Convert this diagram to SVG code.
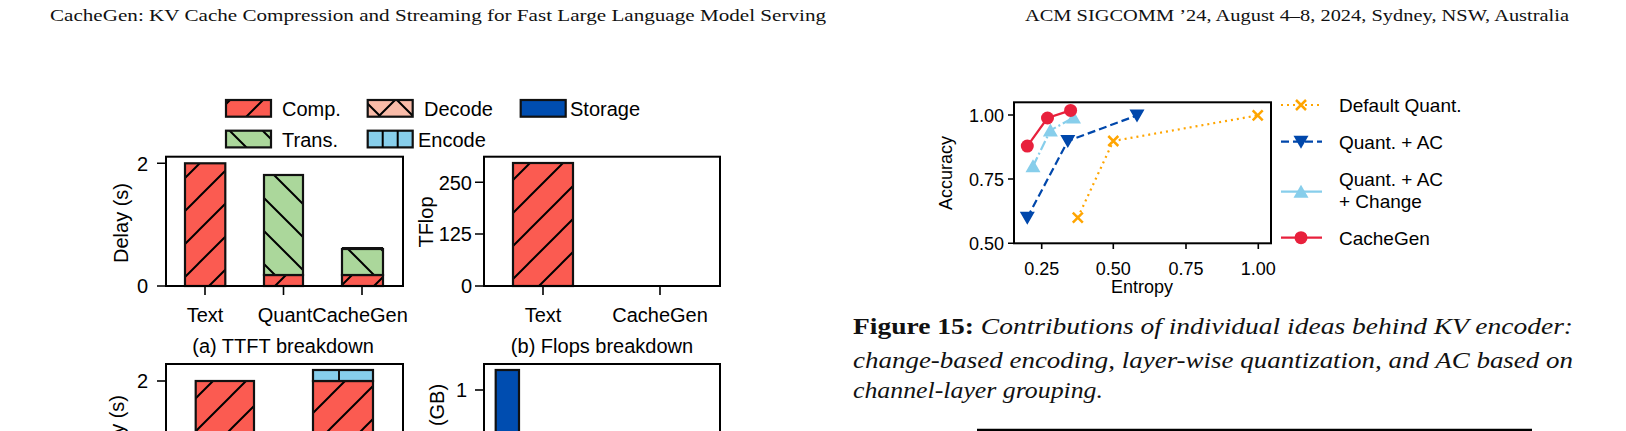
<svg xmlns="http://www.w3.org/2000/svg" width="1626" height="431" viewBox="0 0 1626 431">
<style>
.s{font-family:"Liberation Sans",Arial,sans-serif;fill:#000}
.t20{font-size:20px}
.t18{font-size:18px}
.serif{font-family:"Liberation Serif","Times New Roman",serif;fill:#111}
.ax{fill:none;stroke:#000;stroke-width:2}
.bar{stroke:#111;stroke-width:2.2}
.tk{stroke:#000;stroke-width:1.6}
</style>
<defs>
<pattern id="hf" patternUnits="userSpaceOnUse" width="33" height="33"><rect width="33" height="33" fill="#FB5B51"/><path d="M0,33 L33,0 M-6,6 L6,-6 M27,39 L39,27" stroke="#000" stroke-width="2"/></pattern>
<pattern id="hb" patternUnits="userSpaceOnUse" width="33" height="33"><rect width="33" height="33" fill="#ABD79B"/><path d="M0,0 L33,33 M-6,27 L6,39 M27,-6 L39,6" stroke="#000" stroke-width="2"/></pattern>
<pattern id="hx" patternUnits="userSpaceOnUse" width="33" height="33"><rect width="33" height="33" fill="#F9BBA8"/><path d="M0,33 L33,0 M0,0 L33,33" stroke="#000" stroke-width="2"/></pattern>
</defs>

<g id="header">
<text class="serif" x="50" y="21" font-size="17.5" textLength="776" lengthAdjust="spacingAndGlyphs">CacheGen: KV Cache Compression and Streaming for Fast Large Language Model Serving</text>
<text class="serif" x="1025" y="21" font-size="17.5" textLength="544" lengthAdjust="spacingAndGlyphs">ACM SIGCOMM ’24, August 4–8, 2024, Sydney, NSW, Australia</text>
</g>

<g id="legend-left" class="s t20">
<rect x="226" y="100" width="45" height="16.7" fill="url(#hf)" class="bar"/>
<text x="282" y="116">Comp.</text>
<rect x="367.7" y="100" width="45" height="16.7" fill="url(#hx)" class="bar"/>
<text x="424" y="116">Decode</text>
<rect x="520.7" y="100" width="45" height="16.7" fill="#004DB0" class="bar"/>
<text x="570" y="116">Storage</text>
<rect x="226" y="130.7" width="45" height="16.7" fill="url(#hb)" class="bar"/>
<text x="282" y="146.5">Trans.</text>
<rect x="367.7" y="130.7" width="45" height="16.7" fill="#87CEEB" class="bar"/>
<path d="M382.7,130.7 V147.4 M397.7,130.7 V147.4" stroke="#000" stroke-width="2"/>
<text x="418" y="146.5">Encode</text>
</g>

<g id="chart-a">
<rect x="185" y="163.3" width="40.3" height="122.7" fill="url(#hf)" class="bar"/>
<rect x="264" y="275" width="39" height="11" fill="url(#hf)" class="bar"/>
<rect x="264" y="175" width="39" height="100" fill="url(#hb)" class="bar"/>
<rect x="342" y="275" width="41" height="11" fill="url(#hf)" class="bar"/>
<rect x="342" y="249" width="41" height="26" fill="url(#hb)" class="bar"/>
<rect x="342" y="247" width="41" height="3" fill="#111"/>
<rect x="166" y="156.7" width="237" height="129.3" class="ax"/>
<path class="tk" d="M157,163.3 H166 M157,286 H166 M205,286 V295 M283.5,286 V295 M362,286 V295"/>
<g class="s t20">
<text x="148" y="170.5" text-anchor="end">2</text>
<text x="148" y="293" text-anchor="end">0</text>
<text x="205" y="322" text-anchor="middle">Text</text>
<text x="285" y="322" text-anchor="middle">Quant</text>
<text x="360" y="322" text-anchor="middle">CacheGen</text>
<text transform="translate(128,223) rotate(-90)" text-anchor="middle">Delay (s)</text>
<text x="283" y="353" text-anchor="middle">(a) TTFT breakdown</text>
</g>
</g>

<g id="chart-b">
<rect x="513" y="163" width="60" height="123" fill="url(#hf)" class="bar"/>
<rect x="630" y="285" width="60" height="1.5" fill="#111"/>
<rect x="484" y="156.7" width="236" height="129.3" class="ax"/>
<path class="tk" d="M475,182.3 H484 M475,234 H484 M475,286 H484 M543,286 V295 M660,286 V295"/>
<g class="s t20">
<text x="472" y="189.5" text-anchor="end">250</text>
<text x="472" y="241" text-anchor="end">125</text>
<text x="472" y="293" text-anchor="end">0</text>
<text x="543" y="322" text-anchor="middle">Text</text>
<text x="660" y="322" text-anchor="middle">CacheGen</text>
<text transform="translate(433,222) rotate(-90)" text-anchor="middle">TFlop</text>
<text x="602" y="353" text-anchor="middle">(b) Flops breakdown</text>
</g>
</g>

<g id="chart-c">
<rect x="195.7" y="381" width="58.3" height="60" fill="url(#hf)" class="bar"/>
<rect x="313" y="381" width="60" height="60" fill="url(#hf)" class="bar"/>
<rect x="313" y="370" width="60" height="11" fill="#87CEEB" class="bar"/>
<path d="M339,370 V381" stroke="#111" stroke-width="2"/>
<rect x="166" y="364" width="237" height="80" class="ax"/>
<path class="tk" d="M157,381 H166"/>
<g class="s t20">
<text x="148" y="388" text-anchor="end">2</text>
<text transform="translate(124,435) rotate(-90)" text-anchor="middle">Delay (s)</text>
</g>
</g>

<g id="chart-d">
<rect x="495.7" y="370" width="23.3" height="70" fill="#004DB0" class="bar"/>
<rect x="484" y="364" width="236" height="80" class="ax"/>
<path class="tk" d="M475,390 H484"/>
<g class="s t20">
<text x="467" y="397" text-anchor="end">1</text>
<text transform="translate(444,405) rotate(-90)" text-anchor="middle">(GB)</text>
</g>
</g>

<g id="chart-fig15">
<rect x="1014" y="102.3" width="257" height="141" class="ax"/>
<path class="tk" d="M1008,115 H1014 M1008,179 H1014 M1008,243.3 H1014 M1041.7,243.3 V249 M1113.3,243.3 V249 M1186,243.3 V249 M1258.3,243.3 V249"/>
<g class="s t18">
<text x="1004" y="121.5" text-anchor="end">1.00</text>
<text x="1004" y="185.5" text-anchor="end">0.75</text>
<text x="1004" y="250" text-anchor="end">0.50</text>
<text x="1041.7" y="275" text-anchor="middle">0.25</text>
<text x="1113.3" y="275" text-anchor="middle">0.50</text>
<text x="1186" y="275" text-anchor="middle">0.75</text>
<text x="1258.3" y="275" text-anchor="middle">1.00</text>
<text x="1142" y="293" text-anchor="middle">Entropy</text>
<text transform="translate(952,173) rotate(-90)" text-anchor="middle">Accuracy</text>
</g>
<g id="series-default">
<polyline points="1077.8,217.7 1113.3,141 1257.7,115.4" fill="none" stroke="#FFA500" stroke-width="2.2" stroke-dasharray="2,4"/>
<path d="M1072.8,212.7 l10,10 M1082.8,212.7 l-10,10 M1108.3,136 l10,10 M1118.3,136 l-10,10 M1252.7,110.4 l10,10 M1262.7,110.4 l-10,10" stroke="#FFA500" stroke-width="2.5"/>
</g>
<g id="series-ac">
<polyline points="1027.3,217.7 1067.8,141 1137,115.4" fill="none" stroke="#0047AB" stroke-width="2.2" stroke-dasharray="8,4"/>
<path d="M1019.8,211.7 h15 l-7.5,13z M1060.3,135 h15 l-7.5,13z M1129.5,109.4 h15 l-7.5,13z" fill="#0047AB"/>
</g>
<g id="series-change">
<polyline points="1033,166.2 1050.4,130.4 1073.5,117.6" fill="none" stroke="#87CEEB" stroke-width="2.2" stroke-dasharray="10,3,2,3"/>
<path d="M1025.5,172.2 h15 l-7.5,-13z M1042.9,136.4 h15 l-7.5,-13z M1066,123.6 h15 l-7.5,-13z" fill="#87CEEB"/>
</g>
<g id="series-cachegen">
<polyline points="1027.3,146.1 1047.5,118 1070.6,110.4" fill="none" stroke="#E8203C" stroke-width="2.2"/>
<circle cx="1027.3" cy="146.1" r="6.5" fill="#E8203C"/>
<circle cx="1047.5" cy="118" r="6.5" fill="#E8203C"/>
<circle cx="1070.6" cy="110.4" r="6.5" fill="#E8203C"/>
</g>
</g>

<g id="legend-fig15" class="s">
<path d="M1281,105 H1322" stroke="#FFA500" stroke-width="2.2" stroke-dasharray="2,4"/>
<path d="M1296,100 l10,10 M1306,100 l-10,10" stroke="#FFA500" stroke-width="2.5"/>
<path d="M1281,141.7 H1322" stroke="#0047AB" stroke-width="2.2" stroke-dasharray="8,4"/>
<path d="M1293.5,135.7 h15 l-7.5,13z" fill="#0047AB"/>
<path d="M1281,191.7 H1322" stroke="#87CEEB" stroke-width="2.2"/>
<path d="M1293.5,197.7 h15 l-7.5,-13z" fill="#87CEEB"/>
<path d="M1281,237.7 H1322" stroke="#E8203C" stroke-width="2.2"/>
<circle cx="1301" cy="237.7" r="6.5" fill="#E8203C"/>
<g style="font-size:19px">
<text x="1339" y="112">Default Quant.</text>
<text x="1339" y="148.5">Quant. + AC</text>
<text x="1339" y="186">Quant. + AC</text>
<text x="1339" y="208">+ Change</text>
<text x="1339" y="244.5">CacheGen</text>
</g>
</g>

<g id="caption" class="serif" font-size="24">
<text x="853" y="334" textLength="720" lengthAdjust="spacingAndGlyphs"><tspan font-weight="bold">Figure 15:</tspan><tspan font-style="italic"> Contributions of individual ideas behind KV encoder:</tspan></text>
<text x="853" y="367.7" textLength="720" lengthAdjust="spacingAndGlyphs" font-style="italic">change-based encoding, layer-wise quantization, and AC based on</text>
<text x="853" y="398" textLength="250" lengthAdjust="spacingAndGlyphs" font-style="italic">channel-layer grouping.</text>
<path d="M977,430 H1532" stroke="#000" stroke-width="2.5"/>
</g>
</svg>
